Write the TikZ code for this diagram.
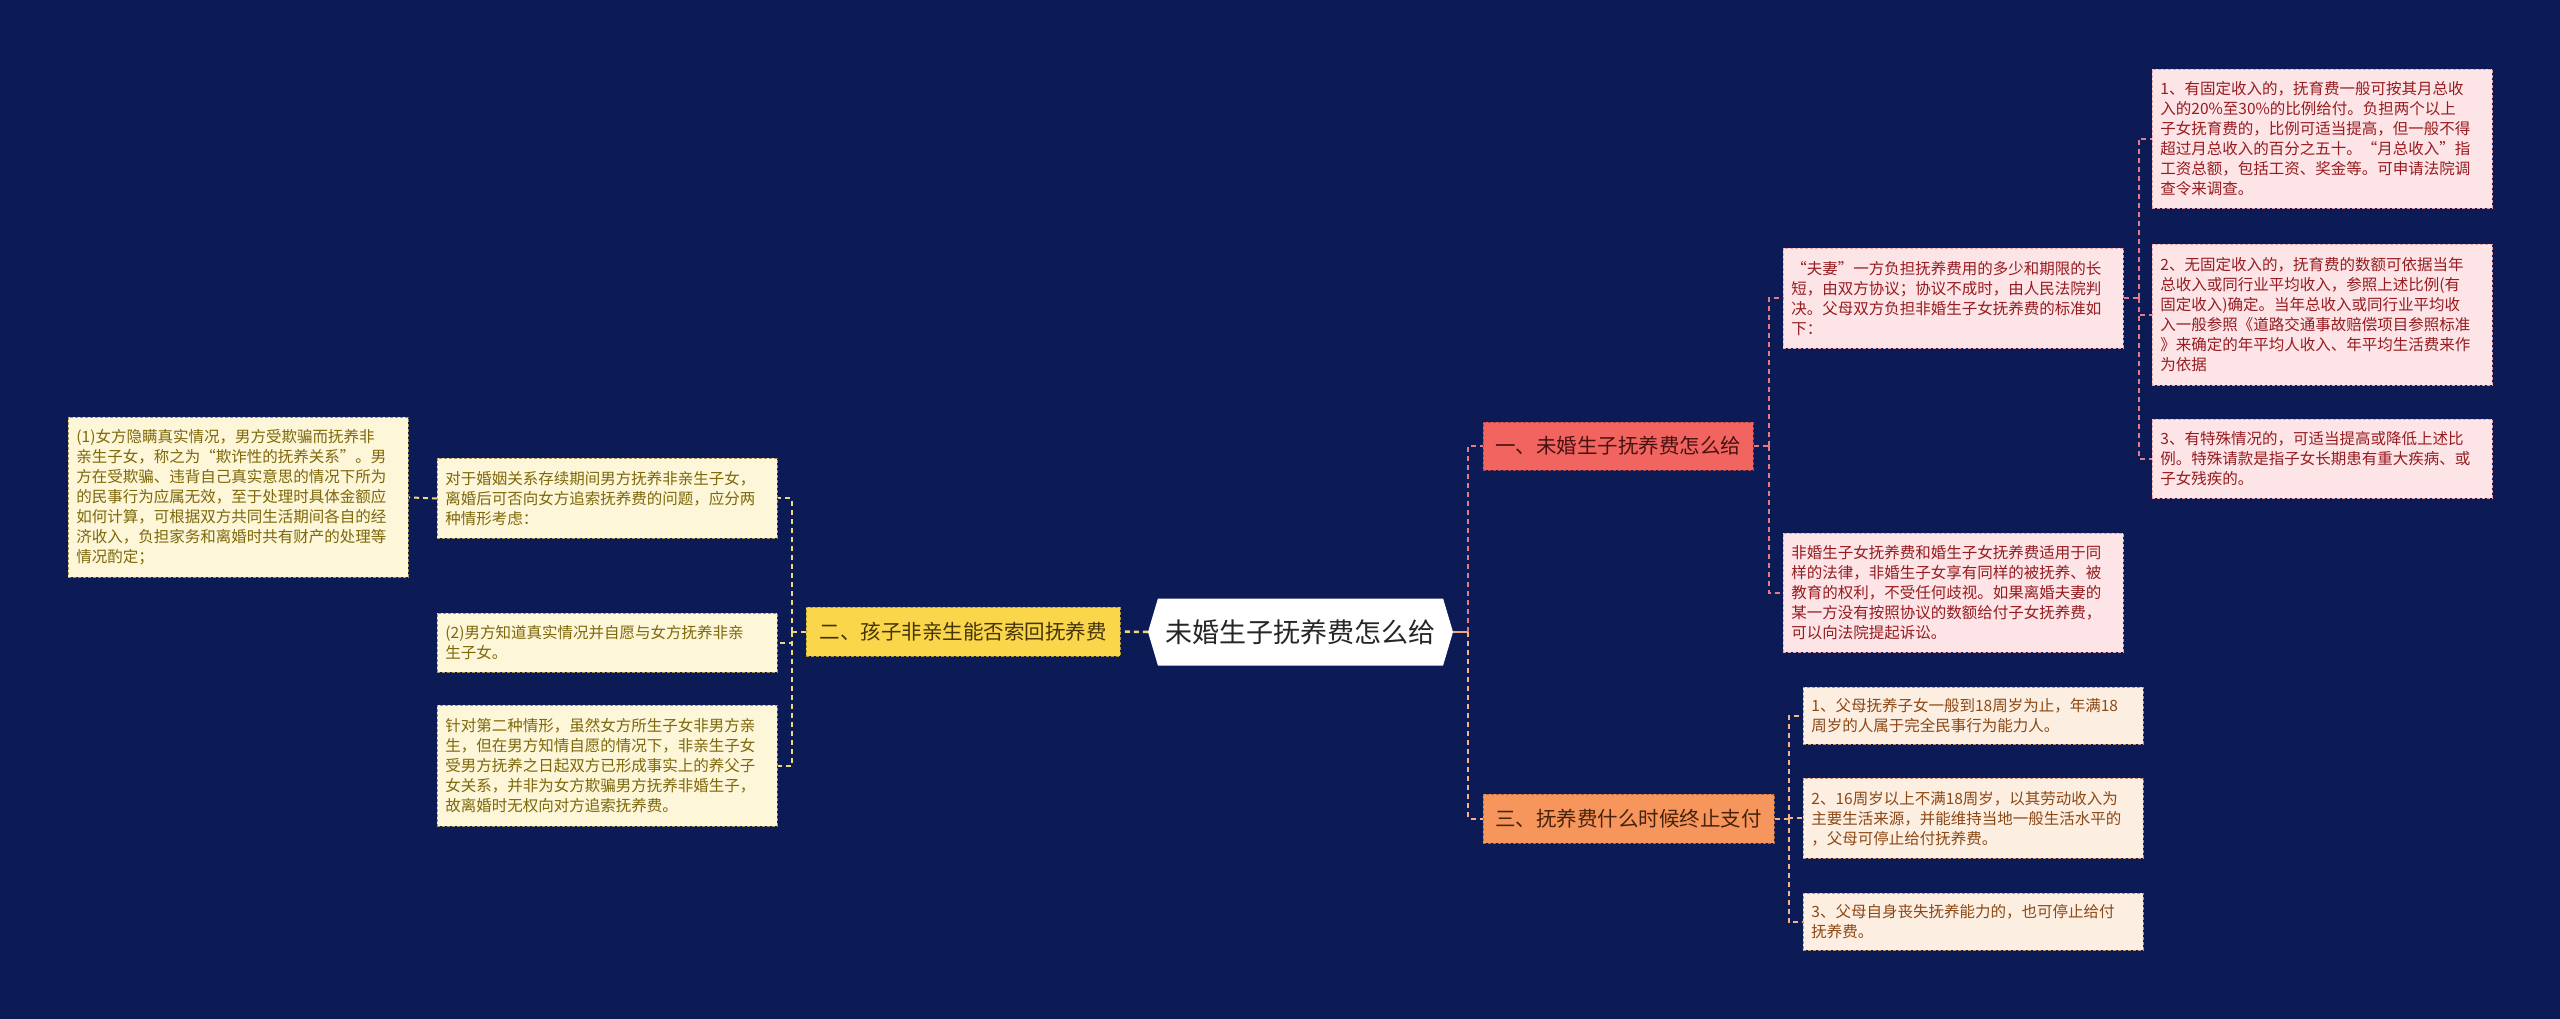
\documentclass[tikz,border=0pt]{standalone}
\usepackage{fontspec}
\setmainfont{Noto Sans CJK SC}
\usetikzlibrary{shapes.symbols,calc}
\definecolor{bg}{RGB}{12,27,86}
\definecolor{pinkfill}{RGB}{253,228,230}
\definecolor{pinktext}{RGB}{150,28,32}
\definecolor{pinkline}{RGB}{226,124,134}
\definecolor{creamfill}{RGB}{253,246,216}
\definecolor{creamtext}{RGB}{125,104,10}
\definecolor{yelline}{RGB}{240,214,120}
\definecolor{peachfill}{RGB}{253,238,226}
\definecolor{peachtext}{RGB}{140,72,20}
\definecolor{peachline}{RGB}{245,181,138}
\definecolor{bonefill}{RGB}{242,100,96}
\definecolor{btwofill}{RGB}{249,214,74}
\definecolor{bthreefill}{RGB}{247,150,92}
\definecolor{rootline}{RGB}{244,167,124}
\definecolor{bonetext}{RGB}{70,18,18}
\definecolor{btwotext}{RGB}{70,52,8}
\definecolor{bthreetext}{RGB}{70,35,10}
\begin{document}
\begin{tikzpicture}[x=1pt,y=-1pt,
  leaf/.style={draw=#1, dashed, dash pattern=on 3pt off 2pt, line width=0.9pt,
    anchor=north west, inner xsep=8pt, inner ysep=0pt, text width=324pt,
    align=left, font=\fontsize{15.5}{20}\selectfont},
  pinkleaf/.style={leaf=pinkline!70!white, fill=pinkfill, text=pinktext},
  creamleaf/.style={leaf=yelline!70!black, fill=creamfill, text=creamtext},
  peachleaf/.style={leaf=peachline!80!black, fill=peachfill, text=peachtext},
  branch/.style={draw=#1, dashed, dash pattern=on 3pt off 2pt, line width=1pt,
    inner sep=0pt, font=\fontsize{20.5}{24}\selectfont},
  conn/.style={draw=#1, dashed, dash pattern=on 5pt off 4pt, line width=2pt},
]
\fill[bg] (0,0) rectangle (2560,1019);
\useasboundingbox (0,0) rectangle (2560,1019);

% root
\node[signal, signal to=east and west, signal pointer angle=147, fill=white,
  minimum width=305pt, minimum height=67pt, inner xsep=0pt,
  font=\fontsize{27}{30}\selectfont, text=black!85] (root) at (1300.5,632) {未婚生子抚养费怎么给};

% branches
\node[branch=bonefill!70!black, fill=bonefill, text=bonetext, minimum width=270pt, minimum height=48pt] (b1) at (1618,446) {一、未婚生子抚养费怎么给};
\node[branch=btwofill!70!black, fill=btwofill, text=btwotext, minimum width=314pt, minimum height=49pt] (b2) at (963,631.5) {二、孩子非亲生能否索回抚养费};
\node[branch=bthreefill!70!black, fill=bthreefill, text=bthreetext, minimum width=291pt, minimum height=49pt] (b3) at (1628.5,818.5) {三、抚养费什么时候终止支付};

% branch 1 children
\node[pinkleaf, minimum height=100pt] (m1) at (1783,248) {“夫妻”一方负担抚养费用的多少和期限的长\\短，由双方协议；协议不成时，由人民法院判\\决。父母双方负担非婚生子女抚养费的标准如\\下：};
\node[pinkleaf, minimum height=119pt] (m2) at (1783,533) {非婚生子女抚养费和婚生子女抚养费适用于同\\样的法律，非婚生子女享有同样的被抚养、被\\教育的权利，不受任何歧视。如果离婚夫妻的\\某一方没有按照协议的数额给付子女抚养费，\\可以向法院提起诉讼。};
\node[pinkleaf, minimum height=139pt] (r1) at (2152,69) {1、有固定收入的，抚育费一般可按其月总收\\入的20\%至30\%的比例给付。负担两个以上\\子女抚育费的，比例可适当提高，但一般不得\\超过月总收入的百分之五十。“月总收入”指\\工资总额，包括工资、奖金等。可申请法院调\\查令来调查。};
\node[pinkleaf, minimum height=141pt] (r2) at (2152,244) {2、无固定收入的，抚育费的数额可依据当年\\总收入或同行业平均收入，参照上述比例(有\\固定收入)确定。当年总收入或同行业平均收\\入一般参照《道路交通事故赔偿项目参照标准\\》来确定的年平均人收入、年平均生活费来作\\为依据};
\node[pinkleaf, minimum height=79pt] (r3) at (2152,419) {3、有特殊情况的，可适当提高或降低上述比\\例。特殊请款是指子女长期患有重大疾病、或\\子女残疾的。};

% branch 3 children
\node[peachleaf, minimum height=57pt] (c1) at (1803,687) {1、父母抚养子女一般到18周岁为止，年满18\\周岁的人属于完全民事行为能力人。};
\node[peachleaf, minimum height=80pt] (c2) at (1803,778) {2、16周岁以上不满18周岁，以其劳动收入为\\主要生活来源，并能维持当地一般生活水平的\\，父母可停止给付抚养费。};
\node[peachleaf, minimum height=57pt] (c3) at (1803,893) {3、父母自身丧失抚养能力的，也可停止给付\\抚养费。};

% branch 2 children
\node[creamleaf, minimum height=80pt] (l1) at (437,458) {对于婚姻关系存续期间男方抚养非亲生子女，\\离婚后可否向女方追索抚养费的问题，应分两\\种情形考虑：};
\node[creamleaf, minimum height=59pt] (l2) at (437,613) {(2)男方知道真实情况并自愿与女方抚养非亲\\生子女。};
\node[creamleaf, minimum height=121pt] (l3) at (437,705) {针对第二种情形，虽然女方所生子女非男方亲\\生，但在男方知情自愿的情况下，非亲生子女\\受男方抚养之日起双方已形成事实上的养父子\\女关系，并非为女方欺骗男方抚养非婚生子，\\故离婚时无权向对方追索抚养费。};
\node[creamleaf, minimum height=160pt] (l0) at (68,417) {(1)女方隐瞒真实情况，男方受欺骗而抚养非\\亲生子女，称之为“欺诈性的抚养关系”。男\\方在受欺骗、违背自己真实意思的情况下所为\\的民事行为应属无效，至于处理时具体金额应\\如何计算，可根据双方共同生活期间各自的经\\济收入，负担家务和离婚时共有财产的处理等\\情况酌定；};

% junctions
\coordinate (jr) at ($(root.east)+(15,0)$);
\coordinate (j1) at ($(b1.east)+(15,0)$);
\coordinate (jm) at ($(m1.east)+(15,0)$);
\coordinate (j3) at ($(b3.east)+(14,0)$);
\coordinate (j2) at ($(b2.west)+(-14,0)$);

% connectors
\draw[rootline, line width=2.5pt] (root.east) -- (jr);
\draw[conn=pinkline] (jr) |- (b1.west);
\draw[conn=peachline] (jr) |- (b3.west);
\draw[conn=yelline, line width=2.5pt] (root.west) -- (b2.east);

\draw[conn=pinkline] (b1.east) -- (j1);
\draw[conn=pinkline] (j1) |- (m1.west);
\draw[conn=pinkline] (j1) |- (m2.west);

\draw[conn=pinkline] (m1.east) -- (jm);
\draw[conn=pinkline] (jm) |- (r1.west);
\draw[conn=pinkline] (jm) |- (r2.west);
\draw[conn=pinkline] (jm) |- (r3.west);

\draw[conn=peachline] (b3.east) -- (j3);
\draw[conn=peachline] (j3) |- (c1.west);
\draw[conn=peachline] (j3) |- (c2.west);
\draw[conn=peachline] (j3) |- (c3.west);

\draw[conn=yelline] (b2.west) -- (j2);
\draw[conn=yelline] (j2) |- (l1.east);
\draw[conn=yelline] (j2) |- (l2.east);
\draw[conn=yelline] (j2) |- (l3.east);
\draw[conn=yelline] (l1.west) -- (l0.east);
\end{tikzpicture}
\end{document}
